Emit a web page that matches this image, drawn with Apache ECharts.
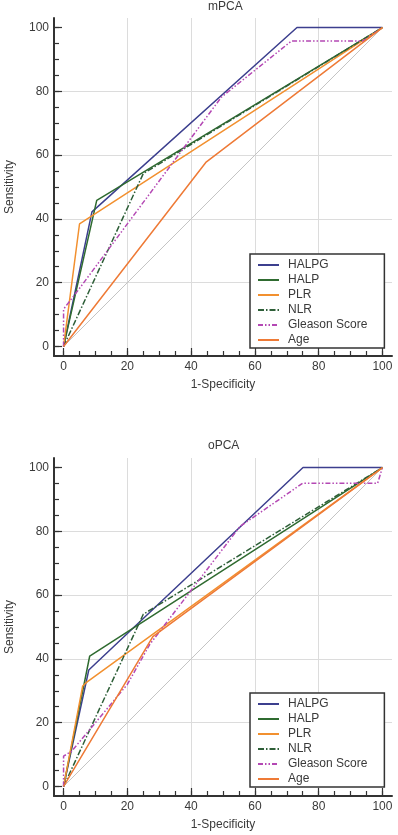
<!DOCTYPE html>
<html>
<head>
<meta charset="utf-8">
<script src="https://cdn.jsdelivr.net/npm/echarts@6/dist/echarts.min.js"></script>
<style>
html,body{margin:0;padding:0;background:#fff;}
#chart{width:398px;height:835px;}
</style>
</head>
<body>
<div id="chart"></div>
<script>
// ---- Data ----
const seriesNames = ['HALPG', 'HALP', 'PLR', 'NLR', 'Gleason Score', 'Age'];
const chartTitles = ['mPCA', 'oPCA'];
const majorTicks = [0, 20, 40, 60, 80, 100];
const minorTicks = [0, 5, 10, 15, 20, 25, 30, 35, 40, 45, 50, 55, 60, 65, 70, 75, 80, 85, 90, 95, 100];
const diagonal = [[0, 0], [100, 100]];

// mPCA ROC curves [1-Specificity, Sensitivity]
const mHALPG = [[0, 0], [8.9, 42.2], [73.2, 100], [100, 100]];
const mHALP = [[0, 0], [10.4, 45.8], [100, 100]];
const mPLR = [[0, 0], [5, 38.4], [100, 100]];
const mNLR = [[0, 0], [25, 54.2], [100, 100]];
const mGleason = [[0, 0], [0, 11.7], [4.7, 17.8], [49.5, 78.2], [71.5, 95.8], [94, 95.8], [100, 100]];
const mAge = [[0, 0], [44.6, 57.7], [100, 100]];

// oPCA ROC curves
const oHALPG = [[0, 0], [7.9, 36.5], [75.1, 100], [100, 100]];
const oHALP = [[0, 0], [8.2, 40.9], [100, 100]];
const oPLR = [[0, 0], [6, 31.5], [7.4, 32.8], [100, 100]];
const oNLR = [[0, 0], [25, 54], [100, 100]];
const oGleason = [[0, 0], [0, 9.5], [2.5, 11], [20, 32], [27, 44.5], [55.3, 81.5], [75, 95.1], [98.5, 95.1], [100, 100]];
const oAge = [[0, 0], [28, 47], [100, 100]];

// ---- Styles ----
const FONT = 'Liberation Sans, Arial, sans-serif';
const TXT = '#3a3a3a';
const AXIS = '#333';
const styles = {
  'HALPG': { color: '#3c3f8e', type: 'solid' },
  'HALP': { color: '#2f6b30', type: 'solid' },
  'PLR': { color: '#f2902f', type: 'solid' },
  'NLR': { color: '#2e5f38', type: [6, 2, 1.5, 2] },
  'Gleason Score': { color: '#b448b4', type: [5, 2, 1.5, 2, 1.5, 2] },
  'Age': { color: '#ee7a36', type: 'solid' }
};
const chartData = [
  [mHALPG, mHALP, mPLR, mNLR, mGleason, mAge],
  [oHALPG, oHALP, oPLR, oNLR, oGleason, oAge]
];

const GRID_W = 338, GRID_H = 338;
const grids = [
  { left: 54, top: 18, width: GRID_W, height: GRID_H },
  { left: 54, top: 458, width: GRID_W, height: GRID_H }
];

const xAxes = [], yAxes = [], series = [], titles = [], legends = [];
grids.forEach((g, gi) => {
  // main x axis (labels, major ticks, grid lines)
  xAxes.push({
    type: 'value', gridIndex: gi, position: 'bottom', min: -3, max: 103, splitNumber: 5,
    name: '1-Specificity', nameLocation: 'middle', nameGap: 23,
    nameTextStyle: { fontFamily: FONT, fontSize: 12, color: TXT },
    axisLine: { show: true, onZero: false, lineStyle: { color: AXIS, width: 2 } },
    axisTick: { show: true, inside: true, length: 8, customValues: majorTicks, lineStyle: { color: AXIS, width: 1.2 } },
    axisLabel: { customValues: majorTicks, margin: 5, fontFamily: FONT, fontSize: 12, color: TXT },
    splitLine: { show: true, showMinLine: false, showMaxLine: false, lineStyle: { color: '#dcdcdc', width: 1 } }
  });
  // minor ticks (opposite side axis shifted onto the bottom edge)
  xAxes.push({
    type: 'value', gridIndex: gi, position: 'top', offset: -GRID_H, min: -3, max: 103,
    axisLine: { show: false, onZero: false },
    axisTick: { show: true, inside: false, length: 5, customValues: minorTicks, lineStyle: { color: AXIS, width: 1.2 } },
    axisLabel: { show: false }, splitLine: { show: false }
  });
  yAxes.push({
    type: 'value', gridIndex: gi, position: 'left', min: -3, max: 103, splitNumber: 5,
    name: 'Sensitivity', nameLocation: 'middle', nameGap: 38,
    nameTextStyle: { fontFamily: FONT, fontSize: 12, color: TXT },
    axisLine: { show: true, onZero: false, lineStyle: { color: AXIS, width: 2 } },
    axisTick: { show: true, inside: true, length: 8, customValues: majorTicks, lineStyle: { color: AXIS, width: 1.2 } },
    axisLabel: { customValues: majorTicks, margin: 5, fontFamily: FONT, fontSize: 12, color: TXT },
    splitLine: { show: true, showMinLine: false, showMaxLine: false, lineStyle: { color: '#dcdcdc', width: 1 } }
  });
  yAxes.push({
    type: 'value', gridIndex: gi, position: 'right', offset: -GRID_W, min: -3, max: 103,
    axisLine: { show: false, onZero: false },
    axisTick: { show: true, inside: false, length: 5, customValues: minorTicks, lineStyle: { color: AXIS, width: 1.2 } },
    axisLabel: { show: false }, splitLine: { show: false }
  });

  series.push({
    type: 'line', name: 'diag' + gi, xAxisIndex: gi * 2, yAxisIndex: gi * 2,
    data: diagonal, symbol: 'none', silent: true, z: 1,
    lineStyle: { color: '#c4c4c4', width: 1 }
  });
  seriesNames.forEach((nm, si) => {
    series.push({
      type: 'line', name: nm, xAxisIndex: gi * 2, yAxisIndex: gi * 2,
      data: chartData[gi][si], symbol: 'none', z: 3, animation: false,
      lineStyle: { color: styles[nm].color, width: 1.5, type: styles[nm].type },
      itemStyle: { color: styles[nm].color }
    });
  });

  titles.push({
    text: chartTitles[gi], left: 208, top: gi === 0 ? 1 : 440, padding: 0,
    textStyle: { fontFamily: FONT, fontSize: 12, fontWeight: 'normal', color: TXT }
  });
  legends.push({
    data: seriesNames, orient: 'vertical', left: 250, top: gi === 0 ? 254 : 693,
    padding: [4, 17, 1, 7], itemGap: 1, itemWidth: 21, itemHeight: 14,
    borderColor: AXIS, borderWidth: 1.5, borderRadius: 0, backgroundColor: '#fff',
    selectedMode: false,
    itemStyle: { opacity: 0 },
    textStyle: { fontFamily: FONT, fontSize: 12, color: TXT, lineHeight: 14, padding: [0, 0, 0, 4] }
  });
});

const chart = echarts.init(document.getElementById('chart'), null, { renderer: 'canvas' });
chart.setOption({
  animation: false,
  backgroundColor: '#fff',
  title: titles,
  legend: legends,
  grid: grids.map(g => Object.assign({ containLabel: false, outerBoundsMode: 'none' }, g)),
  xAxis: xAxes,
  yAxis: yAxes,
  series: series
});
</script>
</body>
</html>
